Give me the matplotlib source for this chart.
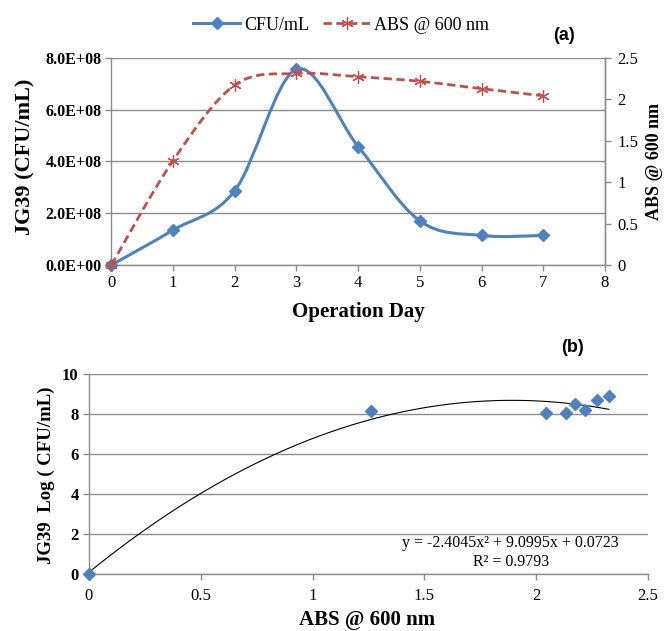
import matplotlib
matplotlib.use("Agg")
import matplotlib.pyplot as plt
import numpy as np
from matplotlib.path import Path
from matplotlib.patches import PathPatch
from matplotlib.ticker import FuncFormatter

# panel (a) data
days = [0, 1, 2, 3, 4, 5, 6, 7]
cfu = [0.0, 1.35e8, 2.87e8, 7.55e8, 4.57e8, 1.70e8, 1.14e8, 1.14e8]
abs600 = [0.0, 1.26, 2.17, 2.31, 2.27, 2.215, 2.126, 2.04]

# panel (b) data
abs_pts = [0.0, 1.263, 2.045, 2.134, 2.172, 2.22, 2.27, 2.325]
log_cfu = [0.0, 8.14, 8.04, 8.04, 8.48, 8.21, 8.68, 8.88]
fit_coef = [-2.4045, 9.0995, 0.0723]
r2 = 0.9793

BLUE = "#4F81BD"
RED = "#C0504D"
GRID = "#8C8C8C"
SERIF = "Liberation Serif"
SANS = "Liberation Sans"

plt.rcParams["font.family"] = SERIF


def smooth_path(x, y):
    # excel-style smoothed line as cubic bezier segments
    p = np.column_stack([x, y]).astype(float)
    verts = [p[0]]
    codes = [Path.MOVETO]
    n = len(p)
    for i in range(n - 1):
        p_prev = p[i - 1] if i > 0 else p[i]
        p_next2 = p[i + 2] if i + 2 < n else p[i + 1]
        c1 = p[i] + (p[i + 1] - p_prev) / 6.0
        c2 = p[i + 1] - (p_next2 - p[i]) / 6.0
        verts += [c1, c2, p[i + 1]]
        codes += [Path.CURVE4] * 3
    return Path(verts, codes)


def style_axis(ax):
    for s in ax.spines.values():
        s.set_color(GRID)
        s.set_linewidth(1.0)
    ax.tick_params(colors="black", length=4, width=1, direction="out")
    ax.tick_params(axis="both", color=GRID)


fig = plt.figure(figsize=(6.67, 6.31), dpi=100)

# ---- panel (a)
ax1 = fig.add_axes([0.167, 0.580, 0.740, 0.3286])
ax2 = ax1.twinx()
ax1.set_xlim(0, 8)
ax1.set_ylim(0, 8e8)
ax2.set_ylim(0, 2.5)
ax1.set_xticks(range(0, 9))
ax1.set_yticks(np.arange(0, 8.01e8, 2e8))
ax2.set_yticks([0, 0.5, 1, 1.5, 2, 2.5])
ax1.yaxis.set_major_formatter(FuncFormatter(lambda v, p: "{:.1E}".format(v)))
ax2.yaxis.set_major_formatter(FuncFormatter(lambda v, p: "{:g}".format(v)))
ax1.yaxis.grid(True, color=GRID, linewidth=1.0)
ax1.set_axisbelow(True)
for ax in (ax1, ax2):
    style_axis(ax)
    ax.spines["top"].set_visible(False)
ax2.spines["left"].set_visible(False)
ax2.spines["bottom"].set_visible(False)

ax1.add_patch(PathPatch(smooth_path(days, cfu), fill=False, edgecolor=BLUE,
                        linewidth=2.2, zorder=3))
ax1.plot(days, cfu, linestyle="none", marker="D", markersize=6.5,
         color=BLUE, zorder=4, clip_on=False)
ax2.add_patch(PathPatch(smooth_path(days, abs600), fill=False, edgecolor=RED,
                        linewidth=2.0, linestyle=(0, (3, 1.6)), zorder=3))
ax2.plot(days, abs600, linestyle="none", marker=(6, 2, 0), markersize=9,
         markeredgewidth=0.9, color=RED, zorder=4, clip_on=False)

for lb in ax1.get_yticklabels():
    lb.set_fontweight("bold")
ax1.tick_params(axis="y", labelsize=11.5, pad=3)
ax1.tick_params(axis="x", labelsize=12)
ax2.tick_params(axis="y", labelsize=12, pad=5)

ax1.set_ylabel("JG39 (CFU/mL)", fontsize=16, fontweight="bold", va="center")
ax1.yaxis.set_label_coords(-0.175, 0.52)
ax2.set_ylabel("ABS @ 600 nm", fontsize=13, fontweight="bold", rotation=90,
               va="center")
ax2.yaxis.set_label_coords(1.1, 0.50)
ax1.set_xlabel("Operation Day", fontsize=15, fontweight="bold", va="center")
ax1.xaxis.set_label_coords(0.5, -0.227)

leg_handles = [
    plt.Line2D([], [], color=BLUE, linewidth=2.2, marker="D", markersize=6.5),
    plt.Line2D([], [], color=RED, linewidth=2.0, linestyle=(0, (3, 1.6)),
               marker=(6, 2, 0), markersize=9, markeredgewidth=0.9),
]
fig.legend(leg_handles, ["CFU/mL", "ABS @ 600 nm"], loc="center",
           bbox_to_anchor=(341 / 667, 1 - 25 / 631), ncol=2, frameon=False,
           fontsize=13, handlelength=2.6, handletextpad=0.2, columnspacing=0.8)

fig.text(564 / 667, 1 - 35 / 631, "(a)", fontsize=13, fontweight="bold",
         family=SANS, ha="center", va="center")

# ---- panel (b)
ax3 = fig.add_axes([0.1334, 0.0908, 0.838, 0.3165])
ax3.set_xlim(0, 2.5)
ax3.set_ylim(0, 10)
ax3.set_xticks([0, 0.5, 1, 1.5, 2, 2.5])
ax3.set_yticks([0, 2, 4, 6, 8, 10])
ax3.xaxis.set_major_formatter(FuncFormatter(lambda v, p: "{:g}".format(v)))
ax3.yaxis.grid(True, color=GRID, linewidth=1.0)
ax3.set_axisbelow(True)
style_axis(ax3)
ax3.spines["top"].set_visible(False)
ax3.spines["right"].set_visible(False)

xf = np.linspace(0, max(abs_pts), 200)
ax3.plot(xf, np.polyval(fit_coef, xf), color="black", linewidth=0.8, zorder=3)
ax3.plot(abs_pts, log_cfu, linestyle="none", marker="D", markersize=6.5,
         color=BLUE, zorder=4, clip_on=False)

for lb in ax3.get_yticklabels():
    lb.set_fontweight("bold")
ax3.tick_params(axis="y", labelsize=12)
ax3.tick_params(axis="x", labelsize=12, pad=6)

ax3.set_ylabel("JG39  Log ( CFU/mL)", fontsize=13.5, fontweight="bold",
               va="center")
ax3.yaxis.set_label_coords(-0.077, 0.495)
ax3.set_xlabel("ABS @ 600 nm", fontsize=15, fontweight="bold", va="center")
ax3.xaxis.set_label_coords(0.497, -0.232)

eq = "y = {:.4f}x\u00b2 + {:.4f}x + {:.4f}".format(*fit_coef)
ax3.text(1.886, 1.54, eq, fontsize=11.5, ha="center", va="center", zorder=5)
ax3.text(1.886, 0.58, "R\u00b2 = {:.4f}".format(r2), fontsize=11.5,
         ha="center", va="center", zorder=5)

fig.text(572 / 667, 1 - 348 / 631, "(b)", fontsize=13, fontweight="bold",
         family=SANS, ha="center", va="center")

fig.savefig("out.png", dpi=100)
